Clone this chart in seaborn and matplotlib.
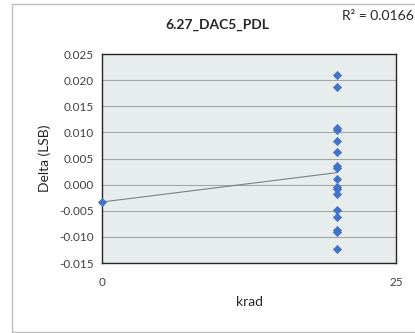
import seaborn as sns
import pandas as pd
import numpy as np
import matplotlib.pyplot as plt
from matplotlib.patches import Rectangle

# values
krad = [0, 20, 20, 20, 20, 20, 20, 20, 20, 20, 20, 20, 20, 20, 20, 20, 20, 20]
delta = [-0.00332, 0.0210, 0.0186, 0.01085, 0.0105, 0.00836, 0.00619, 0.00357, 0.00325,
         0.00102, -0.0005, -0.00083, -0.00172, -0.00485, -0.00625, -0.0086, -0.0091, -0.0124]
yticks = [-0.015, -0.010, -0.005, 0.000, 0.005, 0.010, 0.015, 0.020, 0.025]
xticks = [0, 25]

df = pd.DataFrame({"krad": krad, "delta": delta})

sns.set_style("white")
plt.rcParams["font.family"] = ["Lato", "DejaVu Sans"]

fig = plt.figure(figsize=(4.15, 3.33), dpi=100)
ax = fig.add_axes([0.2458, 0.2102, 0.7084, 0.6276])
ax.set_facecolor("#E7ECEC")

sns.regplot(x="krad", y="delta", data=df, ci=None, ax=ax, marker="D",
            scatter_kws=dict(s=22, color="#4472C4", alpha=1, zorder=3, linewidths=0, clip_on=False),
            line_kws=dict(color="#7F7F7F", lw=0.8, zorder=2))

ax.set_xlim(0, 25)
ax.set_ylim(-0.015, 0.025)
ax.set_yticks(yticks)
ax.set_yticklabels([f"{v:.3f}" for v in yticks], fontsize=8.5, color="#404040")
ax.set_xticks(xticks)
ax.set_xticklabels([str(v) for v in xticks], fontsize=8.5, color="#404040")
ax.tick_params(axis="both", direction="out", length=3, width=0.8, color="#808080", pad=3)
ax.tick_params(axis="x", pad=7)
ax.grid(axis="y", color="#A6A6A6", lw=0.8)
ax.set_axisbelow(True)
for s in ax.spines.values():
    s.set_visible(True)
    s.set_color("#262626")
    s.set_linewidth(1.0)

ax.set_xlabel("krad", fontsize=10, color="#262626", labelpad=6)
ax.set_ylabel("Delta (LSB)", fontsize=10, color="#262626", labelpad=6)
fig.text(0.523, 0.925, "6.27_DAC5_PDL", ha="center", va="center",
         fontsize=10, fontweight="bold", color="#262626")
fig.text(0.824, 0.952, "R² = 0.0166", ha="left", va="center", fontsize=10, color="#262626")

fig.patches.append(Rectangle((12 / 415, 1 / 333), 420 / 415, 328 / 333, transform=fig.transFigure,
                             fill=False, edgecolor="#BFBFBF", lw=1.0))

fig.savefig("out.png", dpi=100)
